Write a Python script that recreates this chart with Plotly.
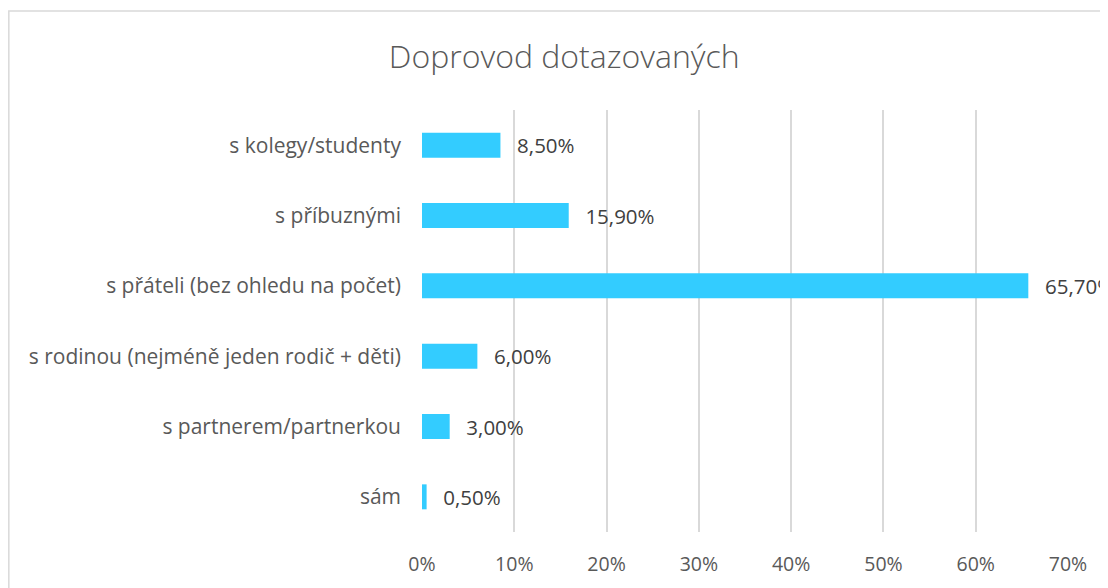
import plotly.graph_objects as go

# survey: who the respondents came with (share, %)
categories = [
    "s kolegy/studenty",
    "s příbuznými",
    "s přáteli (bez ohledu na počet)",
    "s rodinou (nejméně jeden rodič + děti)",
    "s partnerem/partnerkou",
    "sám",
]
shares = [8.5, 15.9, 65.7, 6.0, 3.0, 0.5]
x_ticks = [0, 10, 20, 30, 40, 50, 60, 70]
x_tick_labels = [f"{t}%" for t in x_ticks]

BAR = "#33CCFF"
GREY = "#595959"
FONT = "Open Sans, Lato, sans-serif"

# the page is drawn with an 8px body margin, so margins are offset by 8
labels = ["\u2002\u2009" + f"{v:.2f}%".replace(".", ",") for v in shares]

fig = go.Figure(go.Bar(
    x=shares, y=categories, orientation="h",
    marker=dict(color=BAR, line=dict(width=0)),
    text=labels, textposition="outside", cliponaxis=False,
    constraintext="none",
    textfont=dict(family=FONT, size=20.5, color="#404040"),
))

fig.update_layout(
    width=1108, height=588,
    paper_bgcolor="white", plot_bgcolor="white",
    margin=dict(l=414, r=47.5, t=102, b=64),
    bargap=0.645, showlegend=False,
    font=dict(family=FONT, size=19.5, color=GREY),
    title=dict(text="Doprovod dotazovaných", x=0.502, xanchor="center",
               y=0.917, yanchor="middle",
               font=dict(family=FONT, size=32, color=GREY, weight=300)),
    xaxis=dict(range=[0, 70], tickvals=x_ticks, ticktext=x_tick_labels,
               tickfont=dict(size=19.5),
               showgrid=True, gridcolor="#D9D9D9", gridwidth=1.5,
               zeroline=False, showline=False, ticks="",
               ticklabelstandoff=18, fixedrange=True),
    yaxis=dict(autorange="reversed", showgrid=False, showline=False,
               tickfont=dict(size=21),
               ticks="", ticklabelstandoff=20, fixedrange=True),
    shapes=[dict(type="rect", xref="paper", yref="paper",
                 x0=-0.6396, x1=2, y0=-1, y1=1.2346,
                 line=dict(color="#D9D9D9", width=1.5), layer="below")],
)

fig.write_html("out.html")
